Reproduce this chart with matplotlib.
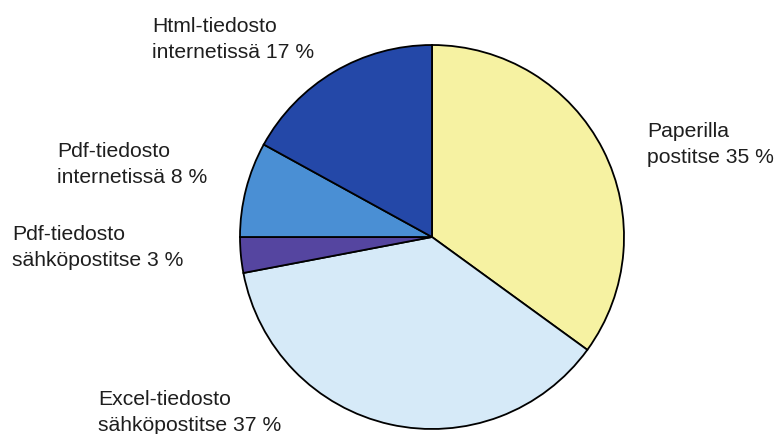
import numpy as np
import matplotlib
matplotlib.use('Agg')
from matplotlib import pyplot as plt

plt.rcParams['font.family'] = ['Liberation Sans', 'DejaVu Sans']

# ~~~~~~~~~~~~~~~~~~~~~~ data ~~~~~~~~~~~~~~~~~~~~~
first_lines = ['Paperilla', 'Excel-tiedosto', 'Pdf-tiedosto', 'Pdf-tiedosto', 'Html-tiedosto']
second_lines = ['postitse', 'sähköpostitse', 'sähköpostitse', 'internetissä', 'internetissä']
shares = [35, 37, 3, 8, 17]
colors = ['#f6f2a2', '#d6eaf8', '#5545a0', '#4a8fd4', '#2448a8']

# label anchor (left edge, baseline of first line) in pixels from top-left
label_pos = [(647, 137), (98, 405), (12, 240), (57, 157), (152, 32)]
line_gap = 26

W, H = 777, 435
fig = plt.figure(figsize=(W / 100, H / 100), dpi=100)
ax = fig.add_axes([0, 0, 1, 1])

ax.pie(shares, colors=colors, startangle=90, counterclock=False,
       center=(432, H - 238), radius=192, frame=True,
       wedgeprops=dict(edgecolor='black', linewidth=1.3))

for (px, py), l1, l2, v in zip(label_pos, first_lines, second_lines, shares):
    ax.text(px, H - py, l1, ha='left', va='baseline', fontsize=15.2, color='#1e1e1e')
    ax.text(px, H - py - line_gap, '%s %d %%' % (l2, v), ha='left', va='baseline',
            fontsize=15.2, color='#1e1e1e')

ax.set_xlim(0, W)
ax.set_ylim(0, H)
ax.set_aspect('equal')
ax.axis('off')

plt.savefig('out.png', dpi=100, facecolor='white')
